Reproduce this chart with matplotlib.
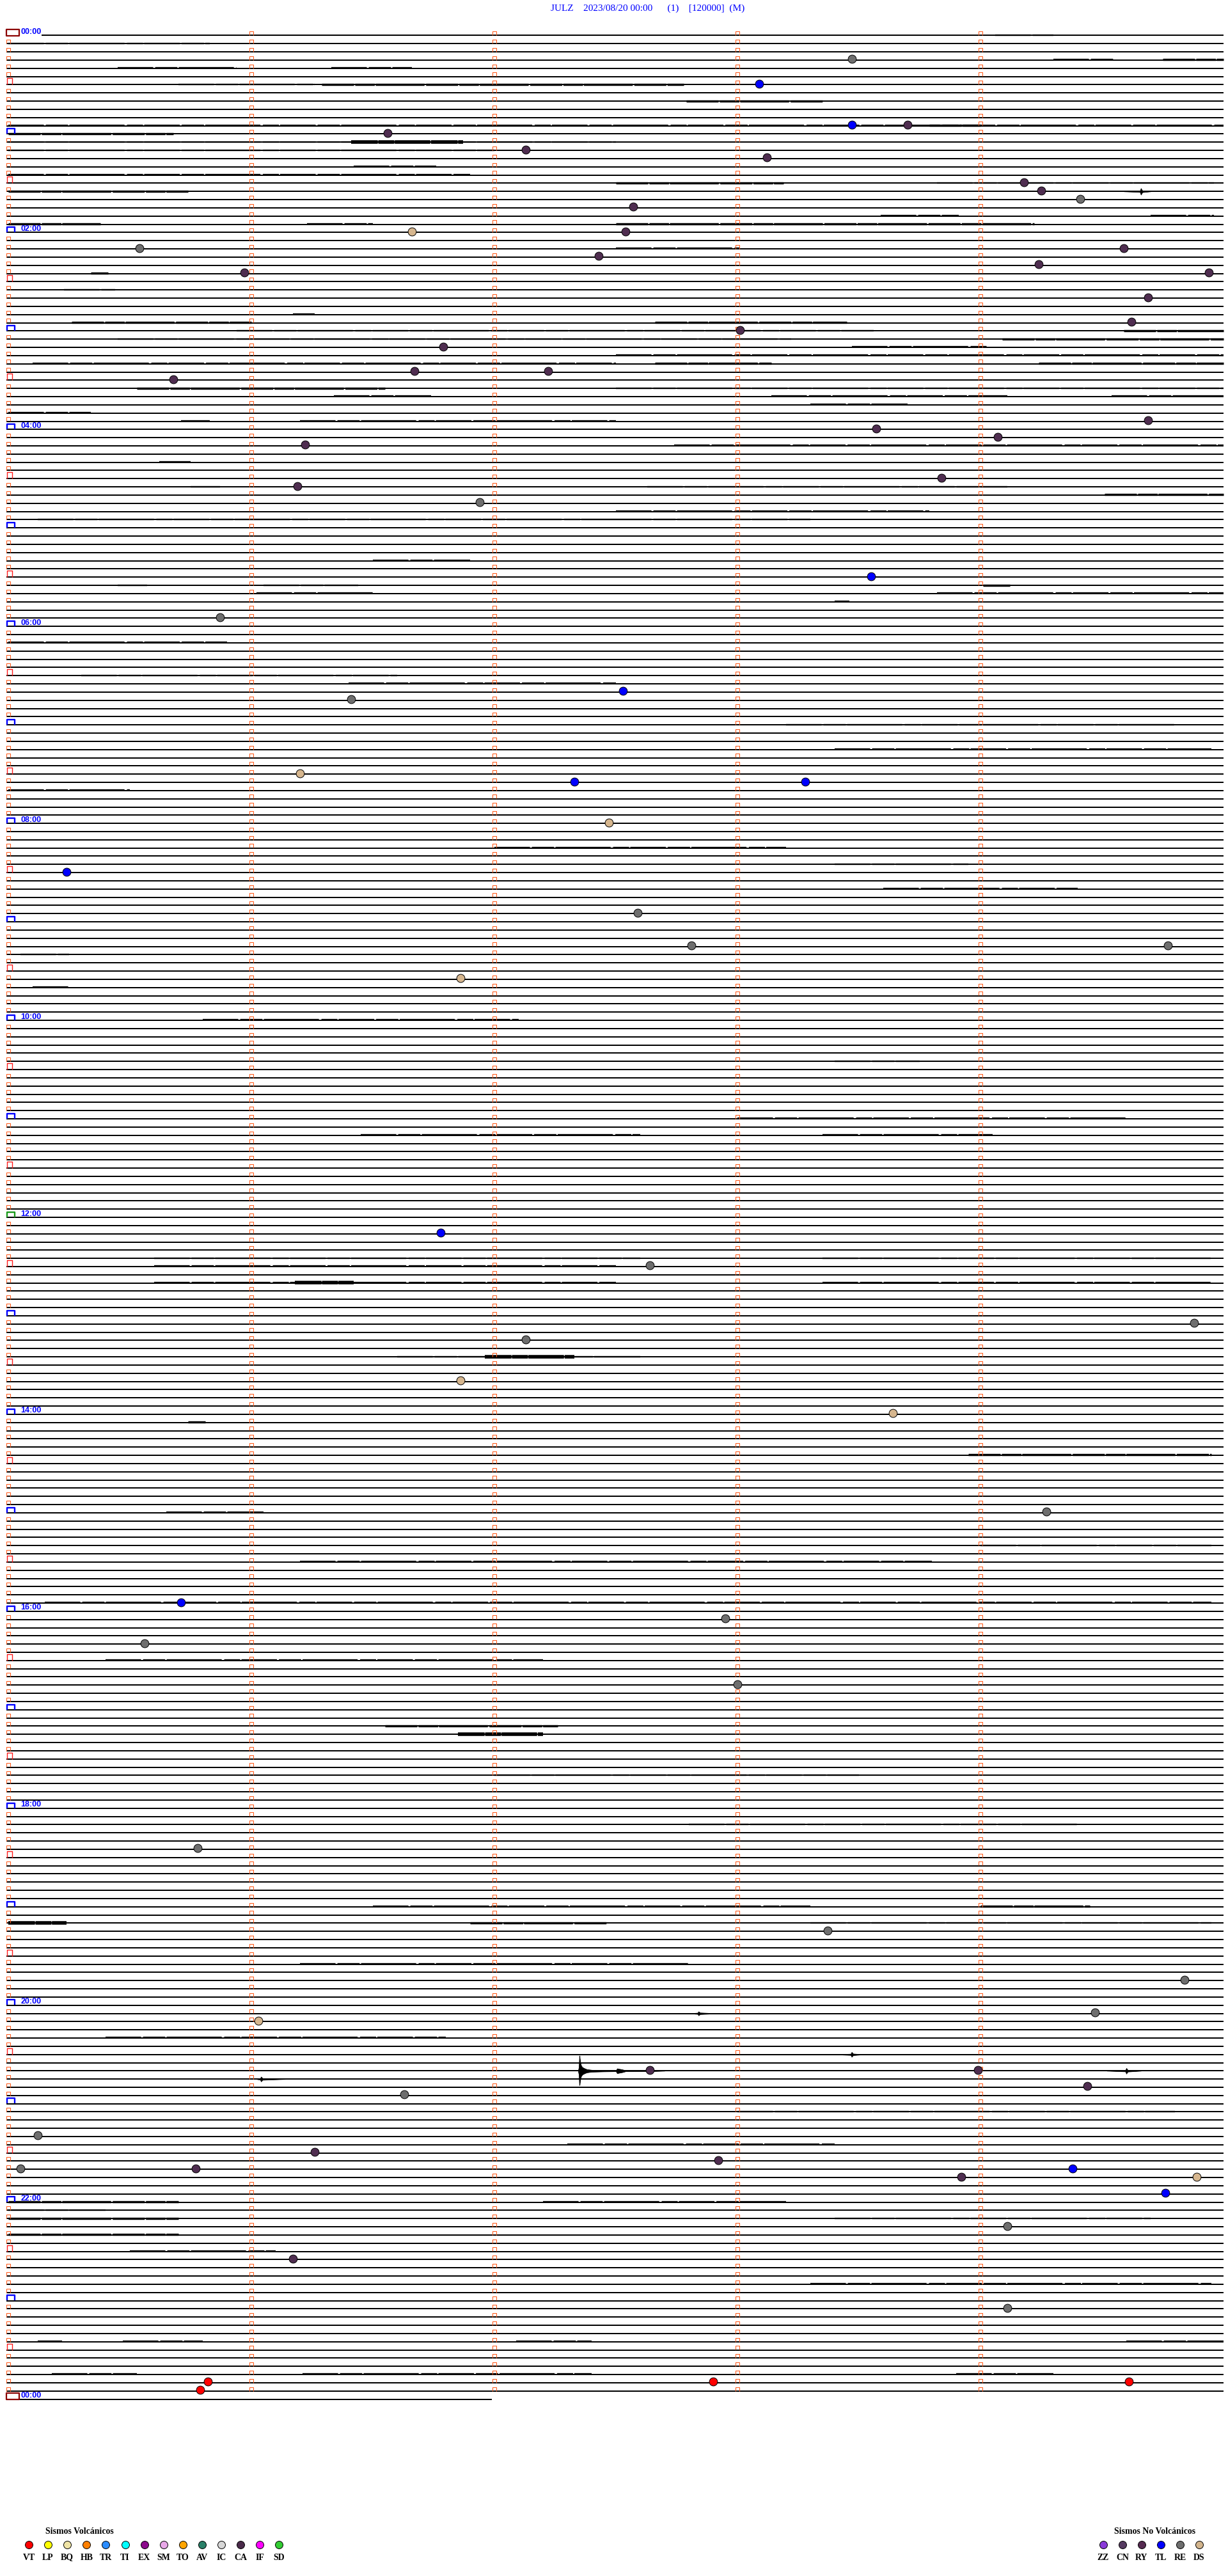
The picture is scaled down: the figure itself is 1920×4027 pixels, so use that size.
import matplotlib
matplotlib.use("Agg")
import matplotlib.pyplot as plt
from matplotlib.path import Path

plt.rcParams["lines.scale_dashes"] = False

# ---------------- data ----------------
station_header = "JULZ    2023/08/20 00:00      (1)    [120000]  (M)"
rows_per_hour = 12            # 5-minute traces
n_full_rows = 288             # 00:00 .. 23:55
last_row_minutes = 1.99       # partial trace after midnight

hour_labels = ["00:00", "02:00", "04:00", "06:00", "08:00", "10:00", "12:00",
               "14:00", "16:00", "18:00", "20:00", "22:00", "00:00"]

# events: trace row (5-min line), minute inside the line, type
event_row = [3, 6, 11, 11, 12, 14, 15, 18, 19, 20, 21, 24, 24, 26, 26, 27, 28, 29, 29,
             32, 35, 36, 38, 41, 41, 42, 47, 48, 49, 50, 54, 55, 57, 66, 71,
             80, 81, 90, 91, 91, 96, 102, 107, 111, 111, 115, 146, 150, 157, 159,
             164, 168, 180, 191, 193, 196, 201, 221, 231, 237, 241, 242, 248, 248,
             251, 250, 256, 258, 260, 260, 259, 261, 260, 261, 263, 267, 271, 277,
             286, 287, 286, 286]
event_min = [3.47, 3.09, 3.47, 3.70, 1.56, 2.13, 3.12, 4.18, 4.25, 4.41, 2.57, 1.66, 2.54,
             0.54, 4.59, 2.43, 4.24, 0.97, 4.94, 4.69, 4.62, 3.01, 1.79, 1.67, 2.22, 0.68,
             4.69, 3.57, 4.07, 1.22, 3.84, 1.19, 1.94, 3.55, 0.87,
             2.53, 1.41, 1.20, 2.33, 3.28, 2.47, 0.24, 2.59, 2.81, 4.77, 1.86, 1.78, 2.64,
             4.88, 2.13, 1.86, 3.64, 4.27, 0.71, 2.95, 0.56, 3.00, 0.78, 3.37, 4.84, 4.47,
             1.03, 2.64, 3.99, 1.63, 4.44, 0.12, 1.26, 0.05, 0.77, 2.92, 3.92, 4.38, 4.89,
             4.76, 4.11, 1.17, 4.11, 0.82, 0.79, 2.90, 4.61]
event_type = ["RE", "TL", "TL", "RY", "RY", "RY", "RY", "RY", "RY", "RE", "RY", "DS", "RY",
              "RE", "RY", "RY", "RY", "RY", "RY", "RY", "RY", "RY", "RY", "RY", "RY", "RY",
              "RY", "RY", "RY", "RY", "RY", "RY", "RE", "TL", "RE",
              "TL", "RE", "DS", "TL", "TL", "DS", "TL", "RE", "RE", "RE", "DS", "TL", "RE",
              "RE", "RE", "DS", "DS", "RE", "TL", "RE", "RE", "RE", "RE", "RE", "RE", "RE",
              "DS", "RY", "RY", "RE", "RY", "RE", "RY", "RE", "RY", "RY", "RY", "TL", "DS",
              "TL", "RE", "RY", "RE", "VT", "VT", "VT", "VT"]

# background noise bursts: (row, start minute, end minute, level 1..3)
noise_segments = [
    (0, 4.06, 4.30, 1), (1, 0.00, 0.83, 1), (3, 4.30, 4.55, 1), (3, 4.75, 5.00, 2),
    (4, 0.45, 0.94, 1), (4, 1.33, 1.66, 1), (6, 0.70, 1.26, 1), (6, 1.29, 2.78, 2),
    (8, 2.79, 3.35, 2), (11, 0.00, 5.00, 1), (11, 3.79, 4.00, 2), (12, 0.00, 0.68, 2),
    (13, 0.00, 2.50, 1), (13, 1.41, 1.87, 3), (14, 0.00, 2.00, 1), (16, 1.42, 1.76, 1),
    (17, 0.00, 1.90, 1), (18, 2.50, 3.19, 2), (18, 3.82, 4.96, 1), (19, 0.00, 0.74, 2),
    (22, 3.59, 3.91, 1), (22, 4.70, 4.96, 1), (23, 0.00, 0.38, 2), (23, 1.23, 1.50, 1),
    (23, 2.50, 4.22, 2), (26, 2.50, 3.01, 1), (29, 0.34, 0.41, 2), (31, 0.23, 0.44, 1),
    (34, 1.17, 1.26, 1), (35, 0.26, 1.00, 2), (35, 2.66, 3.45, 2), (36, 0.94, 3.56, 1),
    (36, 4.59, 5.00, 2), (37, 0.45, 3.22, 1), (37, 4.09, 5.00, 2), (38, 3.47, 4.03, 1),
    (39, 2.50, 5.00, 1), (40, 0.10, 2.50, 1), (40, 2.66, 3.14, 2), (40, 4.24, 5.00, 2),
    (43, 0.53, 1.55, 2), (43, 2.50, 5.00, 1), (44, 1.34, 1.74, 1), (44, 3.14, 4.11, 1),
    (44, 4.54, 5.00, 1), (45, 3.30, 3.70, 1), (46, 0.00, 0.34, 1), (47, 0.71, 0.83, 1),
    (47, 1.20, 2.50, 1), (50, 2.74, 5.00, 1), (52, 0.62, 0.75, 1), (55, 0.75, 0.87, 1),
    (55, 2.63, 4.11, 1), (56, 4.51, 5.00, 2), (58, 2.50, 3.79, 1), (59, 0.12, 2.50, 1),
    (59, 2.50, 3.30, 1), (64, 1.50, 1.90, 1), (67, 0.45, 0.57, 1), (67, 1.05, 1.44, 1),
    (67, 4.01, 4.12, 2), (68, 1.02, 1.50, 1), (68, 3.82, 5.00, 1), (69, 3.40, 3.46, 1),
    (74, 0.00, 0.90, 1), (78, 0.30, 1.60, 1), (79, 1.40, 2.50, 1), (84, 3.20, 4.80, 1),
    (87, 3.40, 4.95, 1), (92, 0.00, 0.50, 1), (99, 2.00, 3.20, 1), (101, 3.40, 3.95, 1),
    (104, 3.60, 4.40, 1), (112, 0.05, 0.25, 1), (116, 0.10, 0.25, 1), (120, 0.80, 2.10, 1),
    (125, 3.40, 3.75, 1), (132, 3.00, 4.60, 1), (134, 1.45, 2.60, 1), (134, 3.35, 4.05, 1),
    (149, 0.60, 2.60, 1), (149, 3.35, 4.95, 1),
    (150, 0.60, 2.50, 1), (152, 0.60, 2.50, 1), (152, 1.18, 1.42, 3), (152, 3.35, 4.95, 1),
    (161, 1.60, 2.60, 1), (161, 1.96, 2.33, 3), (169, 0.74, 0.81, 2),
    (173, 3.95, 4.95, 2), (180, 0.65, 1.05, 1), (184, 4.00, 4.95, 1),
    (186, 1.20, 3.80, 1), (191, 0.15, 4.95, 1), (198, 0.40, 2.20, 1),
    (206, 1.55, 2.26, 2), (207, 1.85, 2.20, 3), (212, 2.00, 3.50, 1), (218, 2.80, 4.40, 1),
    (228, 1.50, 3.30, 1), (228, 4.00, 4.45, 2), (230, 0.00, 0.24, 3), (230, 1.90, 2.46, 2),
    (230, 3.30, 4.95, 1), (235, 1.20, 2.80, 1),
    (244, 0.40, 1.80, 1), (253, 3.00, 4.80, 1), (257, 2.30, 3.40, 1),
    (264, 0.00, 0.70, 2), (264, 2.20, 3.20, 1), (265, 0.00, 0.40, 1), (266, 0.00, 0.70, 2),
    (266, 3.40, 4.70, 1), (268, 0.00, 0.70, 2), (270, 0.50, 1.10, 1), (274, 3.30, 4.95, 1),
    (281, 0.12, 0.22, 1), (281, 0.47, 0.80, 1), (281, 2.09, 2.40, 1),
    (281, 4.60, 5.00, 1), (285, 0.18, 0.53, 1), (285, 1.21, 2.40, 1), (285, 3.90, 4.30, 1),
]

# largest local earthquake (row 248): envelope of the trace (half amplitude in rows)
quake_row = 248
quake_min = [2.344, 2.347, 2.350, 2.3535, 2.357, 2.362, 2.370, 2.380, 2.400, 2.450,
             2.500, 2.505, 2.512, 2.525, 2.540, 2.650, 2.700]
quake_amp = [0.00, 0.40, 1.75, 1.10, 0.65, 0.45, 0.32, 0.20, 0.12, 0.08,
             0.06, 0.30, 0.25, 0.18, 0.06, 0.05, 0.00]

# small spindle-shaped signals: row, start minute, peak minute, end minute, half amplitude
small_sig_row = [19, 241, 246, 248, 249]
small_sig_start = [4.59, 2.80, 3.40, 4.52, 1.02]
small_sig_peak = [4.66, 2.84, 3.47, 4.60, 1.04]
small_sig_end = [4.70, 2.92, 3.52, 4.66, 1.14]
small_sig_amp = [0.40, 0.25, 0.30, 0.35, 0.30]

volc_codes = ["VT", "LP", "BQ", "HB", "TR", "TI", "EX", "SM", "TO", "AV", "IC", "CA", "IF", "SD"]
volc_colors = ["#ff0000", "#ffff00", "#efe4a6", "#ff8000", "#2a8cff", "#00ffff", "#8c0a8c",
               "#e8a8e8", "#ffa500", "#2a8068", "#d6d6d6", "#4a2a4a", "#ff00ff", "#33cc33"]
nonvolc_codes = ["ZZ", "CN", "RY", "TL", "RE", "DS"]
nonvolc_colors = ["#8a3ad8", "#553a60", "#552a50", "#0000ff", "#6e6e6e", "#d2b48c"]

# ---------------- layout (pixels of the 1920x4027 canvas) ----------------
W, H, DPI = 1920, 4027, 100
X0, PXM = 13.0, 380.0          # x pixel of minute 0, pixels per minute
Y0, PXR = 55.5, 12.83          # y pixel of row 0, pixels per row

fig = plt.figure(figsize=(W / DPI, H / DPI), dpi=DPI)
ax = fig.add_axes([0, 0, 1, 1])
ax.set_xlim(-X0 / PXM, (W - X0) / PXM)
ax.set_ylim((H - Y0) / PXR, -Y0 / PXR)
ax.axis("off")

px_row = 1.0 / PXR   # one pixel expressed in rows

# trace base lines
for r in range(n_full_rows):
    start = 0.137 if r == 0 else -0.008
    ax.plot([start, 5.0], [r, r], color="black", lw=1.1, solid_capstyle="butt",
            antialiased=False, zorder=2)
ax.plot([-0.008, last_row_minutes], [n_full_rows, n_full_rows], color="black", lw=1.1,
        solid_capstyle="butt", antialiased=False, zorder=2)

# noise (thickened, slightly broken strokes over the trace)
noise_lw = {1: 1.7, 2: 2.5, 3: 4.0}
noise_dash = {1: (0, (40, 2.2, 25, 1.6, 62, 2.8, 18, 1.4)),
              2: (0, (36, 1.4, 22, 1.0, 55, 1.8)),
              3: (0, (30, 0.6, 18, 0.5, 40, 0.8))}
for (r, s, e, lev) in noise_segments:
    ax.plot([s, e], [r - 0.6 * px_row, r - 0.6 * px_row], color="black", lw=noise_lw[lev],
            zorder=3, ls=noise_dash[lev], solid_capstyle="butt")

# earthquake
ax.fill_between(quake_min, [quake_row - a for a in quake_amp],
                [quake_row + a for a in quake_amp], color="black", lw=0.5, zorder=4)
ax.plot([quake_min[2], quake_min[2]], [quake_row - 1.85, quake_row + 1.65], color="black",
        lw=1.0, zorder=4)

for r, s, p, e, a in zip(small_sig_row, small_sig_start, small_sig_peak, small_sig_end, small_sig_amp):
    ax.fill_between([s, p - 0.004, p, p + 0.006, e], [r, r - 0.08, r - a, r - 0.1, r],
                    [r, r + 0.08, r + a, r + 0.1, r], color="black", lw=0.5, zorder=4)

# time marks (open-bottom boxes)
def mark_path(w, h):
    return Path([(-w / 2, -h / 2), (-w / 2, h / 2), (w / 2, h / 2), (w / 2, -h / 2)],
                [Path.MOVETO, Path.LINETO, Path.LINETO, Path.LINETO])

small_mark = mark_path(1.0, 1.0)
half_mark = mark_path(0.85, 1.0)
hour_mark = mark_path(1.0, 0.68)
day_box = Path([(-0.5, -0.25), (-0.5, 0.25), (0.5, 0.25), (0.5, -0.25), (-0.5, -0.25)],
               [Path.MOVETO, Path.LINETO, Path.LINETO, Path.LINETO, Path.CLOSEPOLY])

orange = "#ff5a1a"
rows_all = list(range(n_full_rows))
for m in range(1, 5):
    ax.plot([m] * len(rows_all), [r - 3.2 * px_row for r in rows_all], ls="none",
            marker=small_mark, ms=4.2, mfc="none", mec=orange, mew=0.75, zorder=5)
r_small = [r for r in rows_all if r % 6 != 0]
ax.plot([0] * len(r_small), [r - 3.2 * px_row for r in r_small], ls="none",
        marker=small_mark, ms=4.2, mfc="none", mec=orange, mew=0.75, zorder=5)
r_half = [r for r in rows_all if r % 12 == 6]
ax.plot([0.004] * len(r_half), [r - 5 * px_row for r in r_half], ls="none",
        marker=half_mark, ms=6.6, mfc="none", mec="#ff1a1a", mew=1.0, zorder=5)
r_hour = [r for r in rows_all if r % 12 == 0 and r not in (0, 144)]
ax.plot([0.01] * len(r_hour), [r - 4.2 * px_row for r in r_hour], ls="none",
        marker=hour_mark, ms=8.8, mfc="none", mec="#0000ff", mew=1.7, zorder=5)
ax.plot([0.01], [144 - 4.2 * px_row], ls="none", marker=hour_mark, ms=8.8, mfc="none",
        mec="#1a9a1a", mew=1.7, zorder=5)
for r in (0, n_full_rows):
    ax.plot([0.018], [r - 4.5 * px_row], ls="none", marker=day_box, ms=14.5, mfc="white",
            mec="#8b0000", mew=1.6, zorder=6)

# hour labels
for i, lab in enumerate(hour_labels):
    r = i * 2 * rows_per_hour
    ax.text(0.051, r - 5.5 * px_row, lab, color="#0000ff", fontsize=9, fontweight="bold",
            family="Liberation Sans", ha="left", va="center", zorder=7)

# events
type_color = {"RE": "#6e6e6e", "RY": "#4f2d50", "DS": "#d6b68e", "TL": "#0000ff", "VT": "#ff0000"}
for r, m, t in zip(event_row, event_min, event_type):
    ax.plot([m], [r - 1.5 * px_row], ls="none", marker="o", ms=9.2, mfc=type_color[t],
            mec="black", mew=0.7, zorder=8)

# header
fig.text(1013 / W, 1 - 13 / H, station_header, color="#0000ff", fontsize=11,
         family="Liberation Serif", ha="center", va="center")

# legends (pixel layout)
lax = fig.add_axes([0, 0, 1, 1])
lax.set_xlim(0, W)
lax.set_ylim(H, 0)
lax.axis("off")
lax.patch.set_alpha(0)
lax.text(124, 3957, "Sismos Volcánicos", family="Liberation Serif", fontweight="bold",
         fontsize=10, ha="center", va="center")
for i, (c, col) in enumerate(zip(volc_codes, volc_colors)):
    x = 45 + 30.1 * i
    lax.plot([x], [3978], ls="none", marker="o", ms=8.6, mfc=col, mec="black", mew=0.7)
    lax.text(x, 3998, c, family="Liberation Serif", fontweight="bold", fontsize=10,
             ha="center", va="center")
lax.text(1806, 3957, "Sismos No Volcánicos", family="Liberation Serif", fontweight="bold",
         fontsize=10, ha="center", va="center")
for i, (c, col) in enumerate(zip(nonvolc_codes, nonvolc_colors)):
    x = 1725 + 30 * i
    lax.plot([x], [3978], ls="none", marker="o", ms=8.6, mfc=col, mec="black", mew=0.7)
    lax.text(x, 3998, c, family="Liberation Serif", fontweight="bold", fontsize=10,
             ha="center", va="center")

fig.savefig("out.png", dpi=DPI, facecolor="white")
